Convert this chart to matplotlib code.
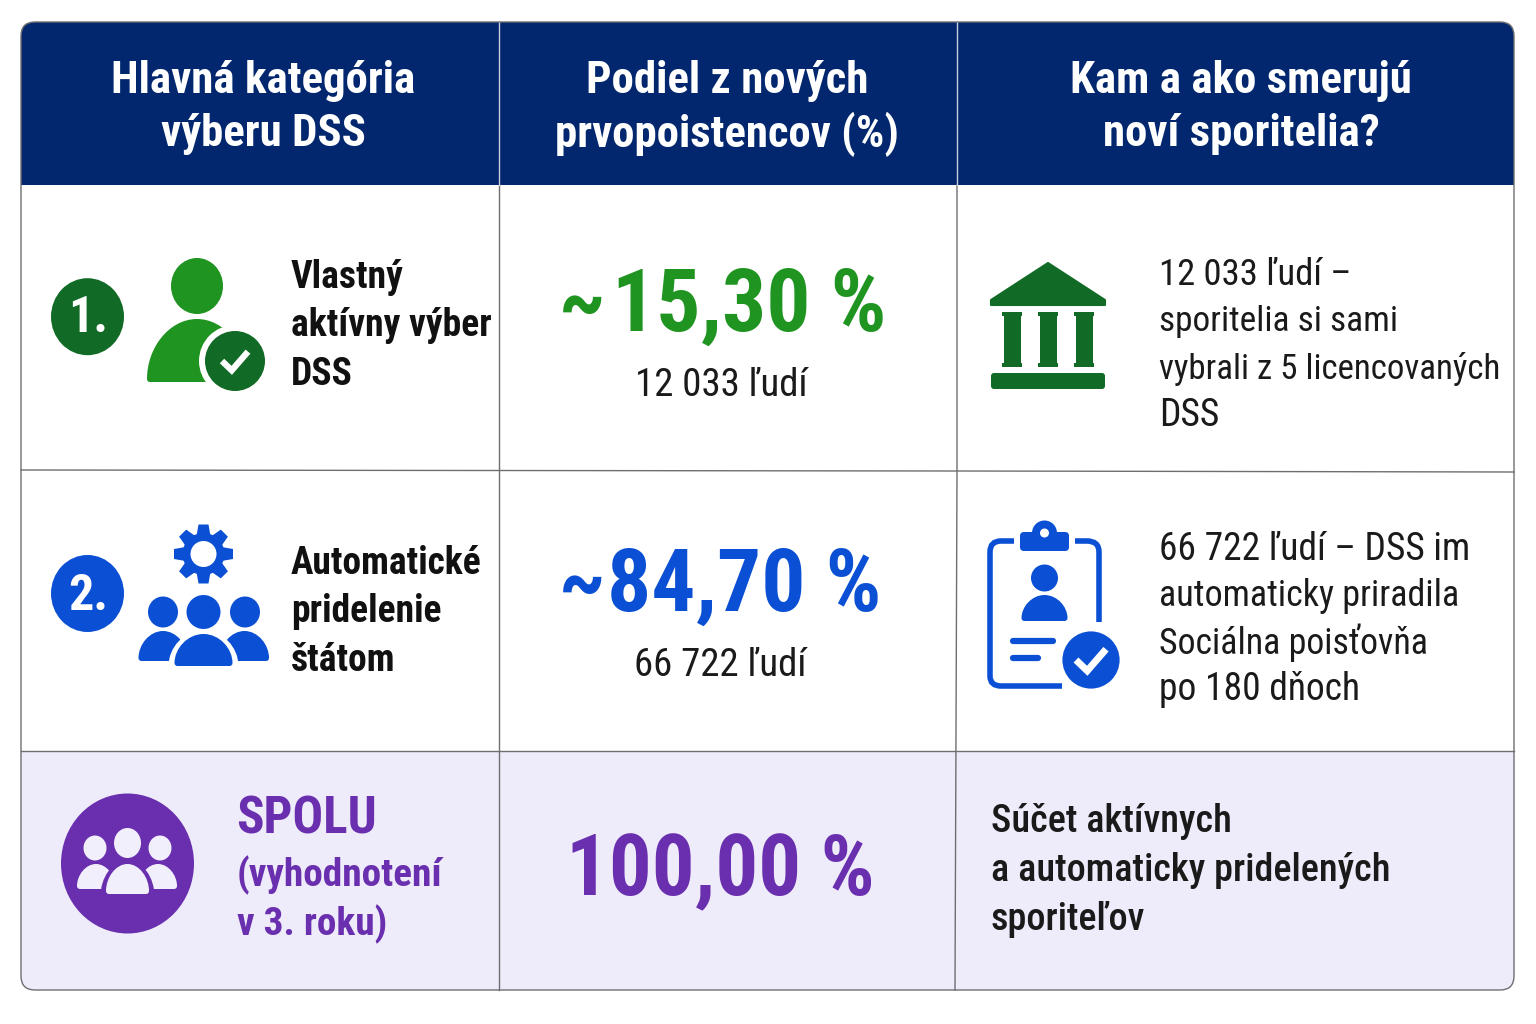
import numpy as np
import matplotlib
matplotlib.use("Agg")
import matplotlib.pyplot as plt
from matplotlib.patches import Circle, FancyBboxPatch, Rectangle, Polygon, PathPatch, Ellipse
from matplotlib.path import Path

plt.rcParams['font.family'] = ['Roboto Condensed', 'DejaVu Sans']

headers = ["Hlavná kategória\nvýberu DSS", "Podiel z nových\nprvopoistencov (%)", "Kam a ako smerujú\nnoví sporitelia?"]
cat_lines = [["Vlastný", "aktívny výber", "DSS"], ["Automatické", "pridelenie", "štátom"]]
pct_labels = ["15,30 %", "84,70 %", "100,00 %"]
people = ["12 033 ľudí", "66 722 ľudí"]
notes = [["12 033 ľudí –", "sporitelia si sami", "vybrali z 5 licencovaných", "DSS"],
         ["66 722 ľudí – DSS im", "automaticky priradila", "Sociálna poisťovňa", "po 180 dňoch"]]
total_lines = ["SPOLU", "(vyhodnotení", "v 3. roku)"]
total_note = ["Súčet aktívnych", "a automaticky pridelených", "sporiteľov"]

NAVY, GREEN, DGREEN, BLUE, PURPLE, LAV = "#03276e", "#1f9420", "#116a25", "#0b50d4", "#6a2fae", "#eeecfa"
LINE = "#6e6e72"
note_sizes = [[26.4, 25.5, 25.1, 27], [27, 26, 25.8, 27]]

fig = plt.figure(figsize=(15.36, 10.24), dpi=100, facecolor="white")
ax = fig.add_axes([0, 0, 1, 1])
ax.set_xlim(0, 1536); ax.set_ylim(1024, 0); ax.axis("off")
L, R, T, B = 21, 1514, 22, 990
card = FancyBboxPatch((L, T), R-L, B-T, boxstyle="round,pad=0,rounding_size=14", fc="white", ec="none", zorder=0)
ax.add_patch(card)

def clipped(p):
    ax.add_patch(p); p.set_clip_path(card); return p
clipped(Rectangle((L, T), R-L, 163, fc=NAVY, ec="none", zorder=1))
clipped(Rectangle((L, 751), R-L, B-751, fc=LAV, ec="none", zorder=1))
ax.add_patch(FancyBboxPatch((L, T), R-L, B-T, boxstyle="round,pad=0,rounding_size=14", fc="none", ec=LINE, lw=1, zorder=5))
ax.plot([L, 957, R], [470, 471, 472], color=LINE, lw=1, zorder=2)
ax.plot([L, R], [750.5, 750.5], color=LINE, lw=1, zorder=2)
ax.plot([499, 499], [185, 990], color=LINE, lw=1, zorder=2)
ax.plot([957, 957, 955], [185, 472, 990], color=LINE, lw=1, zorder=2)
ax.plot([499, 499], [T, 185], color="#c8cede", lw=1, zorder=2)
ax.plot([957, 957], [T, 185], color="#c8cede", lw=1, zorder=2)

def t(x, y, s, size, color="#111111", weight="normal", ha="left", **kw):
    return ax.text(x, y, s, fontsize=size, color=color, fontweight=weight, ha=ha, va="center", zorder=6, **kw)

for x, h in zip([263, 727, 1241], headers):
    for i, line in enumerate(h.split("\n")):
        t(x, 81+i*53, line, 32.3, "white", "bold", "center")

for (y0, lines) in zip([277, 563], cat_lines):
    for i, line in enumerate(lines):
        t(291, y0+i*48.7, line, 27, "#111111", "bold")
for y0, lines, sizes in zip([275, 549], notes, note_sizes):
    for i, (line, size) in enumerate(zip(lines, sizes)):
        t(1159, y0+i*47, line, size, "#1a1a1a")
for i, line in enumerate(total_note):
    t(991, 822+i*48.5, line, 27.5, "#1a1a1a", "medium")
t(236, 820, total_lines[0], 36.6, PURPLE, "bold")
t(237, 875, total_lines[1], 28.3, PURPLE, "bold")
t(237, 924, total_lines[2], 28.3, PURPLE, "bold")

t(582, 306, "~", 60, GREEN, "bold", "center")
t(612, 307, pct_labels[0], 63, GREEN, "bold")
t(582, 586, "~", 60, BLUE, "bold", "center")
t(607, 587, pct_labels[1], 63, BLUE, "bold")
t(720, 872, pct_labels[2], 61, PURPLE, "bold", "center")
t(721, 386, people[0], 28, "#1a1a1a", ha="center")
t(720, 666, people[1], 28, "#1a1a1a", ha="center")

Z = 4
def add(p, z=Z):
    p.set_zorder(z); ax.add_patch(p); return p

def bust(cx, top, hw, bottom, color, z=Z):
    # person shoulders: dome with a flat, slightly rounded base
    h = bottom - top
    verts = [(cx-hw, bottom-3), (cx-hw, top+h*0.45), (cx-hw*0.55, top), (cx, top),
             (cx+hw*0.55, top), (cx+hw, top+h*0.45), (cx+hw, bottom-3),
             (cx+hw, bottom), (cx+hw-3, bottom), (cx-hw+3, bottom), (cx-hw, bottom), (cx-hw, bottom-3), (cx-hw, bottom-3)]
    codes = [Path.MOVETO, Path.CURVE4, Path.CURVE4, Path.CURVE4, Path.CURVE4, Path.CURVE4, Path.CURVE4,
             Path.CURVE3, Path.CURVE3, Path.LINETO, Path.CURVE3, Path.CURVE3, Path.CLOSEPOLY]
    return add(PathPatch(Path(verts, codes), fc=color, ec="none"), z)

def check(cx, cy, s, color="white", lw=5):
    ax.plot([cx-s, cx-s*0.25, cx+s], [cy, cy+s*0.72, cy-s*0.72], color=color, lw=lw,
            solid_joinstyle="miter", solid_capstyle="butt", zorder=Z+3)

# rank badges
add(Ellipse((87.5, 316.7), 73, 77, fc=DGREEN, ec="none"))
ax.text(88, 319, "1.", fontsize=36, color="white", fontweight="bold", ha="center", va="center", zorder=Z+1)
add(Ellipse((87.5, 593.5), 73, 77, fc=BLUE, ec="none"))
ax.text(88, 596, "2.", fontsize=36, color="white", fontweight="bold", ha="center", va="center", zorder=Z+1)

# person with check
add(Ellipse((197, 286), 52, 56, fc=GREEN, ec="none"))
bust(197, 319, 50, 382, GREEN)
add(Circle((235, 361), 36, fc="white", ec="none"), Z+1)
add(Circle((235, 361), 30, fc=DGREEN, ec="none"), Z+2)
check(235, 361, 13, lw=4.5)

# gear + three people
teeth = np.arange(8) * np.pi / 4
for a in teeth:
    c, s = np.cos(a), np.sin(a)
    pts = [(-7, 18), (7, 18), (5, 29.5), (-5, 29.5)]
    add(Polygon([(203.5+px*c-py*s, 554+px*s+py*c) for px, py in pts], fc=BLUE, ec="none"))
add(Circle((203.5, 554), 21, fc=BLUE, ec="none"))
add(Circle((203.5, 554), 13, fc="white", ec="none"), Z+1)
for cx in [163, 245]:
    add(Ellipse((cx, 612), 30, 31, fc=BLUE, ec="none"))
add(Circle((203.5, 612), 17, fc=BLUE, ec="none"))
bust(163, 631, 24.5, 661, BLUE)
bust(244.5, 631, 24.5, 661, BLUE)
bust(203.5, 630, 35, 669, "white", Z+1)
bust(203.5, 634, 29, 666, BLUE, Z+2)

# bank
ax.add_patch(Polygon([(1048, 263), (1105, 300), (1105, 305), (991, 305), (991, 300)], fc=DGREEN, ec=DGREEN, lw=1.5, joinstyle="round", zorder=Z))
for cx in [1012, 1048, 1084]:
    add(Rectangle((cx-8.5, 315), 17, 50, fc=DGREEN, ec="none"))
    add(Rectangle((cx-10, 312), 20, 4, fc=DGREEN, ec="none"))
    add(Rectangle((cx-10, 363), 20, 4, fc=DGREEN, ec="none"))
add(FancyBboxPatch((991, 373), 114, 16, boxstyle="round,pad=0,rounding_size=3", fc=DGREEN, ec="none"))

# clipboard
clip_l = Path([(1014, 541), (1001, 541), (990, 541), (990, 552), (990, 676), (990, 686), (1001, 686), (1062, 686)],
              [Path.MOVETO, Path.LINETO, Path.CURVE3, Path.CURVE3, Path.LINETO, Path.CURVE3, Path.CURVE3, Path.LINETO])
add(PathPatch(clip_l, fc="none", ec=BLUE, lw=4, capstyle="butt"))
clip_r = Path([(1075, 541), (1087, 541), (1099, 541), (1099, 552), (1099, 622)],
              [Path.MOVETO, Path.LINETO, Path.CURVE3, Path.CURVE3, Path.LINETO])
add(PathPatch(clip_r, fc="none", ec=BLUE, lw=4, capstyle="butt"))
add(FancyBboxPatch((1020, 532), 49, 19, boxstyle="round,pad=0,rounding_size=4", fc=BLUE, ec="none"))
add(Circle((1044.5, 533), 12.5, fc=BLUE, ec="none"))
add(Circle((1044.5, 533), 4.5, fc="white", ec="none"), Z+1)
add(Circle((1044.5, 578), 13.5, fc=BLUE, ec="none"))
bust(1044.5, 595, 23, 621, BLUE)
ax.plot([1013, 1053], [641, 641], color=BLUE, lw=4.5, solid_capstyle="round", zorder=Z)
ax.plot([1013, 1038], [658, 658], color=BLUE, lw=4.5, solid_capstyle="round", zorder=Z)
add(Circle((1091, 660), 30, fc=BLUE, ec="white", lw=2), Z+2)
check(1091, 660, 15, lw=5)

# purple group
add(Ellipse((127.5, 863.5), 133, 140, fc=PURPLE, ec="none"))
W = "#f1effb"
add(Ellipse((95, 848), 23, 25, fc=W, ec="none"), Z+1)
add(Ellipse((160, 848), 23, 25, fc=W, ec="none"), Z+1)
add(Ellipse((127.5, 843), 27, 30, fc=W, ec="none"), Z+1)
bust(96, 864, 19, 889, W, Z+1)
bust(158, 864, 19, 889, W, Z+1)
bust(127.5, 860, 27, 899, PURPLE, Z+2)
bust(127.5, 864, 21.5, 894, W, Z+3)

fig.savefig("out.png", dpi=100, facecolor="white")
